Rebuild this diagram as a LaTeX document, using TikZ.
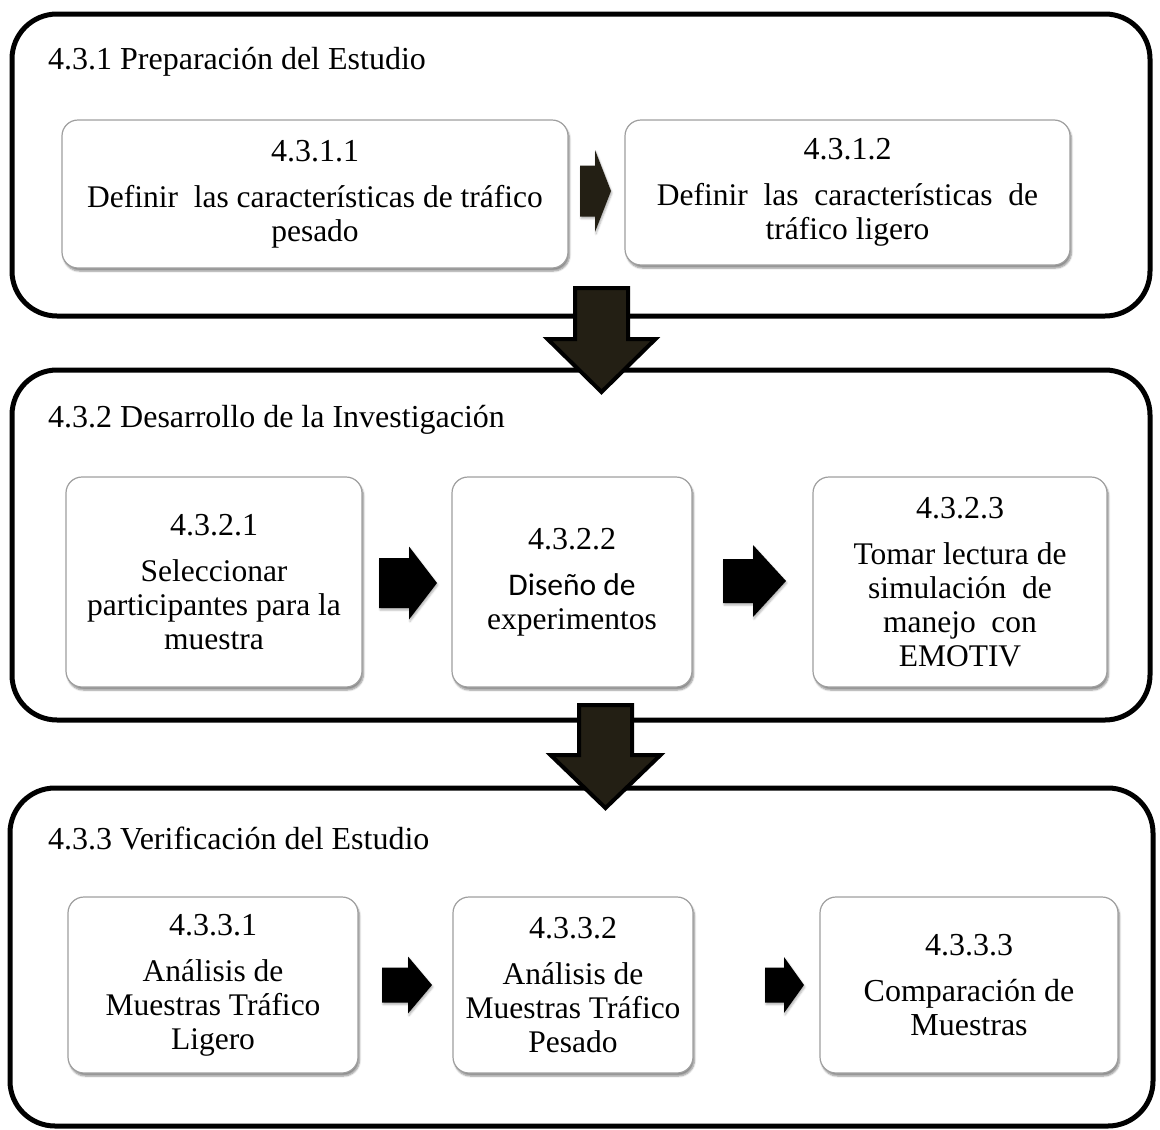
\documentclass[tikz,border=0pt]{standalone}
\usepackage{fontspec}
\setmainfont{Liberation Serif}
\newfontfamily\calibri{Carlito}
\usetikzlibrary{shadows.blur}

\definecolor{flechaoscura}{HTML}{231F14}
\newcommand{\numero}[1]{{\fontsize{32}{34}\selectfont #1}}
% flecha hacia la derecha: x, y, largo del cuerpo, largo de la punta, medio cuerpo, media punta
\newcommand{\flechader}[7][flecha]{%
  \fill[#1] ({#2},{#3-#6}) -- ({#2+#4},{#3-#6}) -- ({#2+#4},{#3-#7}) -- ({#2+#4+#5},{#3})
    -- ({#2+#4},{#3+#7}) -- ({#2+#4},{#3+#6}) -- ({#2},{#3+#6}) -- cycle;}
% flecha hacia abajo: x, y, largo del cuerpo, largo de la punta, medio cuerpo, media punta
\newcommand{\flechaabajo}[6]{%
  \filldraw[flechagrande] ({#1-#5},{#2}) -- ({#1+#5},{#2}) -- ({#1+#5},{#2+#3}) -- ({#1+#6},{#2+#3})
    -- ({#1},{#2+#3+#4}) -- ({#1-#6},{#2+#3}) -- ({#1-#5},{#2+#3}) -- cycle;}

\begin{document}
\begin{tikzpicture}[x=1pt, y=-1pt,
  fase/.style={draw=black, line width=5pt, rounded corners=45pt, inner sep=0pt},
  titulo/.style={anchor=west, inner sep=0pt, font=\fontsize{32}{36}\selectfont},
  tarea/.style={draw=gray!75, fill=white, line width=1.2pt, rounded corners=16pt,
    align=center, inner sep=0pt, font=\fontsize{31.5}{34}\selectfont,
    blur shadow={shadow xshift=1.5pt, shadow yshift=-3pt, shadow blur steps=6, shadow opacity=45}},
  flecha/.style={fill=black, blur shadow={shadow xshift=1pt, shadow yshift=-2pt, shadow blur steps=4, shadow opacity=30}},
  flechagrande/.style={draw=black, line width=4pt, fill=flechaoscura, line join=miter}]
\useasboundingbox (0,0) rectangle (1160,1130);

% fases
\node[fase, minimum width=1138pt, minimum height=302pt] (preparacion) at (581,165) {};
\node[fase, minimum width=1138pt, minimum height=350pt] (desarrollo) at (581,545) {};
\node[fase, minimum width=1143pt, minimum height=338pt] (verificacion) at (581.5,957) {};

\node[titulo] (tprep) at (48,62) {4.3.1 Preparación del Estudio};
\node[titulo] (tdes) at (48,420) {4.3.2 Desarrollo de la Investigación};
\node[titulo] (tver) at (48,838) {4.3.3 Verificación del Estudio};

% 4.3.1
\node[tarea, minimum width=506pt, minimum height=148pt] (pesado) at (315,194)
  {\numero{4.3.1.1}\\[12pt] Definir\ \ las características de tráfico\\ pesado};
\node[tarea, minimum width=445pt, minimum height=145pt] (ligero) at (847.5,192.5)
  {\numero{4.3.1.2}\\[12pt] Definir\ \ las\ \ características\ \ de\\ tráfico ligero};

% 4.3.2
\node[tarea, minimum width=296pt, minimum height=210pt] (participantes) at (214,582)
  {\numero{4.3.2.1}\\[12pt] Seleccionar\\ participantes para la\\ muestra};
\node[tarea, minimum width=240pt, minimum height=210pt] (diseno) at (572,582)
  {\numero{4.3.2.2}\\[12pt] {\calibri Diseño de}\\ experimentos};
\node[tarea, minimum width=294pt, minimum height=210pt] (lectura) at (960,582)
  {\numero{4.3.2.3}\\[12pt] Tomar lectura de\\ simulación\ \ de\\ manejo\ \ con\\ EMOTIV};

% 4.3.3
\node[tarea, minimum width=290pt, minimum height=176pt] (analisisl) at (213,985)
  {\numero{4.3.3.1}\\[12pt] Análisis de\\ Muestras Tráfico\\ Ligero};
\node[tarea, minimum width=240pt, minimum height=176pt] (analisisp) at (573,985)
  {\numero{4.3.3.2}\\[12pt] Análisis de\\ Muestras Tráfico\\ Pesado};
\node[tarea, minimum width=298pt, minimum height=176pt, font=\fontsize{32}{34}\selectfont] (comparacion) at (969,985)
  {\numero{4.3.3.3}\\[12pt] Comparación de\\ Muestras};

% flechas entre tareas
\flechader[flecha, fill=flechaoscura]{580}{191}{15}{16}{25.5}{41}
\flechader{379}{583}{30}{28}{25}{36.5}
\flechader{723}{581}{30}{33}{22}{36}
\flechader{382}{985}{26}{24}{17.5}{28.5}
\flechader{765}{985}{19}{20}{17.5}{28}

% flechas entre fases
\flechaabajo{601.5}{288}{51}{53}{26.5}{54}
\flechaabajo{605.5}{705}{50}{53}{26.5}{55}
\end{tikzpicture}
\end{document}
